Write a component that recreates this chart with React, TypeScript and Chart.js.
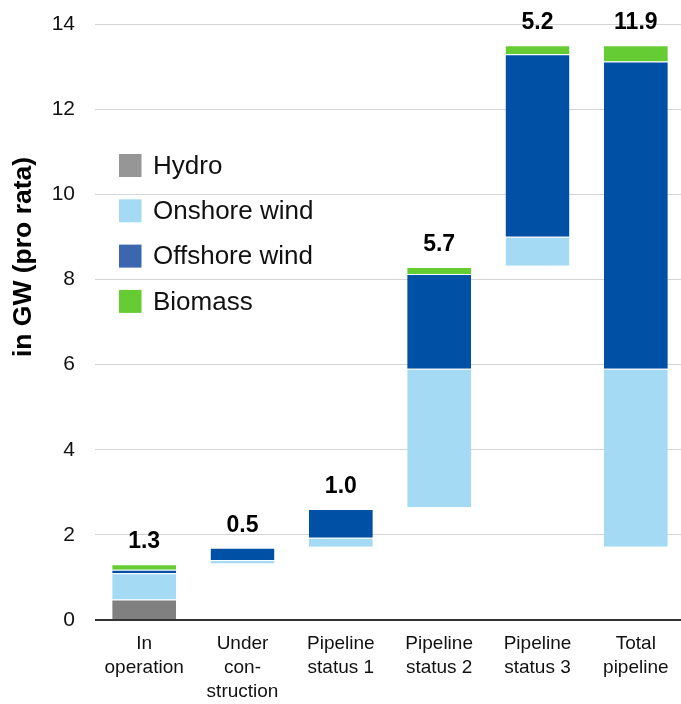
import React, { useEffect, useRef } from "react";
import { Chart, registerables } from "chart.js";

Chart.register(...registerables);

const categories: string[][] = [
  ["In", "operation"],
  ["Under", "con-", "struction"],
  ["Pipeline", "status 1"],
  ["Pipeline", "status 2"],
  ["Pipeline", "status 3"],
  ["Total", "pipeline"],
];
// invisible offset of each floating (waterfall) column, in GW
const baseValues = [0, 1.33, 1.72, 2.65, 8.32, 1.72];
const hydro = [0.48, 0, 0, 0, 0, 0];
const onshoreWind = [0.62, 0.08, 0.21, 3.25, 0.68, 4.18];
const offshoreWind = [0.08, 0.29, 0.68, 2.23, 4.29, 7.22];
const biomass = [0.13, 0, 0, 0.16, 0.21, 0.38];
const totalLabels = ["1.3", "0.5", "1.0", "5.7", "5.2", "11.9"];
const seriesNames = ["Hydro", "Onshore wind", "Offshore wind", "Biomass"];
const yMin = 0;
const yMax = 14;
const yStep = 2;
const yTitle = "in GW (pro rata)";

const FONT = "'Liberation Sans', Arial, Helvetica, sans-serif";
const barColors = ["#808080", "#A4DAF3", "#0050A5", "#66CC33"];
const legendColors = ["#969696", "#A4DAF3", "#3C66B0", "#66CC33"];

const overlayPlugin = {
  id: "overlay",
  afterDraw(chart: any) {
    const ctx = chart.ctx;
    const y = chart.scales.y;
    const x = chart.scales.x;
    ctx.save();
    // value labels above each column
    ctx.font = `bold 23px ${FONT}`;
    ctx.fillStyle = "#000";
    ctx.textAlign = "center";
    ctx.textBaseline = "alphabetic";
    totalLabels.forEach((lab, i) => {
      const top =
        baseValues[i] + hydro[i] + onshoreWind[i] + offshoreWind[i] + biomass[i];
      ctx.fillText(lab, x.getPixelForValue(i), y.getPixelForValue(top) - 16);
    });
    // legend inside plot
    ctx.font = `26px ${FONT}`;
    ctx.textAlign = "left";
    ctx.textBaseline = "middle";
    seriesNames.forEach((name, i) => {
      const cy = 165.5 + i * 45.3;
      ctx.fillStyle = legendColors[i];
      ctx.fillRect(119, cy - 11.5, 22.5, 23);
      ctx.fillStyle = "#111";
      ctx.fillText(name, 153, cy + 1);
    });
    // y axis title
    ctx.translate(24, 257);
    ctx.rotate(-Math.PI / 2);
    ctx.font = `bold 26.5px ${FONT}`;
    ctx.textAlign = "center";
    ctx.fillStyle = "#000";
    ctx.fillText(yTitle, 0, 0);
    ctx.restore();
  },
};

export default function App() {
  const ref = useRef<HTMLCanvasElement>(null);
  useEffect(() => {
    if (!ref.current) return;
    const seg = (label: string, data: number[], color: string) => ({
      label,
      data,
      backgroundColor: color,
      borderColor: "rgba(255,255,255,0.85)",
      borderWidth: { top: 1, left: 0, right: 0, bottom: 0 },
      borderSkipped: false as any,
      stack: "s",
    });
    const chart = new Chart(ref.current, {
      type: "bar",
      data: {
        labels: categories,
        datasets: [
          {
            label: "base",
            data: baseValues,
            backgroundColor: "rgba(0,0,0,0)",
            borderWidth: 0,
            stack: "s",
          },
          seg(seriesNames[0], hydro, barColors[0]),
          seg(seriesNames[1], onshoreWind, barColors[1]),
          seg(seriesNames[2], offshoreWind, barColors[2]),
          seg(seriesNames[3], biomass, barColors[3]),
        ],
      },
      options: {
        animation: false,
        responsive: true,
        maintainAspectRatio: false,
        layout: { padding: { top: 24, left: 0, right: 0, bottom: 0 } },
        datasets: { bar: { categoryPercentage: 1, barPercentage: 0.65 } },
        plugins: {
          legend: { display: false },
          tooltip: { enabled: false },
        },
        scales: {
          x: {
            stacked: true,
            grid: { display: false, drawTicks: false },
            border: { display: false },
            ticks: {
              color: "#111",
              font: { family: FONT, size: 19, lineHeight: 1.25 },
              padding: 12,
              maxRotation: 0,
              autoSkip: false,
            },
            afterFit(scale: any) {
              scale.height = 84;
            },
          },
          y: {
            stacked: true,
            min: yMin,
            max: yMax,
            grid: {
              drawTicks: false,
              color: (c: any) => (c.tick && c.tick.value === 0 ? "#333333" : "#D4D4D4"),
              lineWidth: (c: any) => (c.tick && c.tick.value === 0 ? 2 : 1),
            },
            border: { display: false },
            ticks: {
              stepSize: yStep,
              color: "#111",
              font: { family: FONT, size: 21 },
              padding: 20,
            },
            afterFit(scale: any) {
              scale.width = 95;
              scale.paddingTop = 0;
              scale.paddingBottom = 0;
            },
          },
        },
      },
      plugins: [overlayPlugin],
    });
    return () => chart.destroy();
  }, []);
  return (
    <div
      style={{
        position: "fixed",
        left: 0,
        top: 0,
        width: 685,
        height: 704,
        background: "#fff",
      }}
    >
      <canvas ref={ref} />
    </div>
  );
}
